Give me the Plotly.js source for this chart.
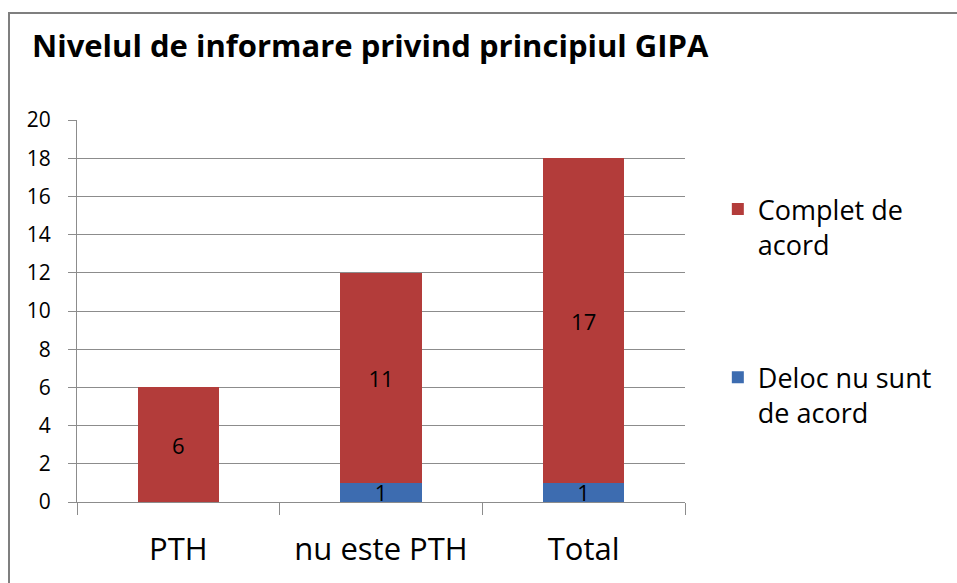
<!DOCTYPE html>
<html>
<head>
<meta charset="utf-8">
<script src="https://cdn.plot.ly/plotly-3.0.1.min.js"></script>
<style>
  html, body { margin: 0; padding: 0; background: #ffffff; }
  #wrap { position: relative; width: 957px; height: 583px; overflow: hidden; }
  #frame { position: absolute; left: 8px; top: 12px; width: 1000px; height: 600px;
           border-left: 2px solid #7f7f7f; border-top: 2px solid #7f7f7f; pointer-events: none; }
  #chart { position: absolute; left: 0; top: 0; width: 957px; height: 583px; }
</style>
</head>
<body>
<div id="wrap">
  <div id="chart"></div>
  <div id="frame"></div>
</div>
<script>
const categories = ["PTH", "nu este PTH", "Total"];
const delocValues = [0, 1, 1];
const completValues = [6, 11, 17];
const delocName = "Deloc nu sunt<br>de acord";
const completName = "Complet de<br>acord";
const yTicks = [0, 2, 4, 6, 8, 10, 12, 14, 16, 18, 20];

const FONT = "Open Sans, Noto Sans, sans-serif";
const labelOf = v => (v > 0 ? String(v) : "");

const traces = [
  {
    type: "bar", name: delocName, x: categories, y: delocValues,
    text: delocValues.map(labelOf), textposition: "inside", insidetextanchor: "middle",
    constraintext: "none", textangle: 0,
    textfont: { family: FONT, size: 22, color: "#000000" },
    marker: { color: "#3d6cb0" }, legendgroup: "b", legendrank: 2, hoverinfo: "none"
  },
  {
    type: "bar", name: completName, x: categories, y: completValues,
    text: completValues.map(labelOf), textposition: "inside", insidetextanchor: "middle",
    constraintext: "none", textangle: 0,
    textfont: { family: FONT, size: 22, color: "#000000" },
    marker: { color: "#b33c3a" }, legendgroup: "a", legendrank: 1, hoverinfo: "none"
  }
];

const layout = {
  width: 957, height: 583,
  margin: { l: 77, r: 272, t: 120, b: 81 },
  paper_bgcolor: "#ffffff", plot_bgcolor: "#ffffff",
  barmode: "stack", bargap: 0.6,
  font: { family: FONT, color: "#000000" },
  title: {
    text: "<b>Nivelul de informare privind principiul GIPA</b>",
    x: 0, xref: "container", xanchor: "left", y: 1, yref: "container", yanchor: "top",
    pad: { t: 35, l: 32 },
    font: { family: FONT, size: 31, color: "#000000" }
  },
  xaxis: {
    type: "category", tickson: "boundaries", ticks: "outside", ticklen: 12,
    tickcolor: "#8c8c8c", tickwidth: 1,
    showline: true, linecolor: "#8c8c8c", linewidth: 1,
    showgrid: false, zeroline: false, fixedrange: true,
    ticklabelstandoff: 20,
    tickfont: { family: FONT, size: 31, color: "#000000" }
  },
  yaxis: {
    range: [0, 20], tickvals: yTicks, ticktext: yTicks.map(String),
    ticks: "outside", ticklen: 8, tickcolor: "#8c8c8c", tickwidth: 1,
    showline: true, linecolor: "#8c8c8c", linewidth: 1,
    showgrid: true, gridcolor: "#8c8c8c", gridwidth: 1, zeroline: false,
    fixedrange: true, ticklabelstandoff: 13,
    tickfont: { family: FONT, size: 21, color: "#000000" }
  },
  showlegend: true,
  legend: {
    x: 1.054, xanchor: "left", y: 0.83, yanchor: "top",
    traceorder: "grouped", tracegroupgap: 95, valign: "top",
    font: { family: FONT, size: 27, color: "#000000" },
    bgcolor: "rgba(0,0,0,0)"
  }
};

Plotly.newPlot("chart", traces, layout, { staticPlot: true, displayModeBar: false });
</script>
</body>
</html>
